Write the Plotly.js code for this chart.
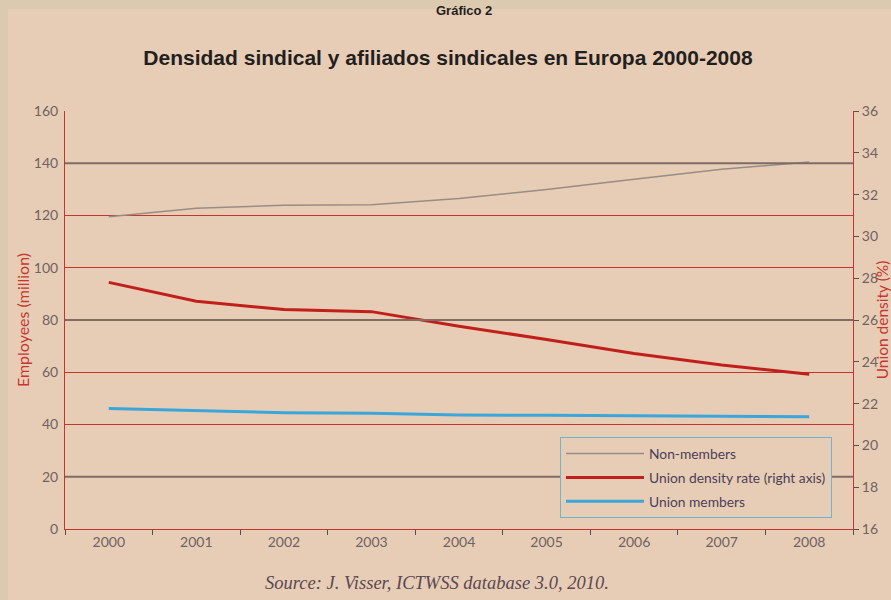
<!DOCTYPE html>
<html>
<head>
<meta charset="utf-8">
<script src="https://cdn.plot.ly/plotly-3.0.1.min.js"></script>
<style>
html,body{margin:0;padding:0;background:#dccab0;}
#chart{width:891px;height:600px;}
</style>
</head>
<body>
<div id="chart"></div>
<script>
// Data
var years = ["2000","2001","2002","2003","2004","2005","2006","2007","2008"];
var nonMembers = [119.5, 122.8, 123.9, 124.1, 126.5, 130.0, 133.9, 137.7, 140.5];      // million, left axis
var unionDensity = [27.8, 26.9, 26.5, 26.4, 25.7, 25.07, 24.4, 23.85, 23.4];          // %, right axis
var unionMembers = [46.1, 45.2, 44.5, 44.3, 43.6, 43.5, 43.3, 43.1, 43.0];            // million, left axis
var leftTicks = [0, 20, 40, 60, 80, 100, 120, 140, 160];
var greyGridTicks = [20, 80, 140];
var rightTicks = [16, 18, 20, 22, 24, 26, 28, 30, 32, 34, 36];
var seriesNames = ["Non-members", "Union density rate (right axis)", "Union members"];

var RED = '#c8352e';
var GRID_GREY = '#7d6d66';
var TICK_GREY = '#6e6262';
var INNER_BG = '#e8cdb6';
var FONT = 'Lato, "Open Sans", sans-serif';

var traces = [
  {x: years, y: nonMembers, name: seriesNames[0], type: 'scatter', mode: 'lines', legendgroup: 'a',
   line: {color: '#978c86', width: 1.5}, yaxis: 'y'},
  {x: years, y: unionDensity, name: seriesNames[1], type: 'scatter', mode: 'lines', legendgroup: 'b',
   line: {color: '#c01f1c', width: 3}, yaxis: 'y2'},
  {x: years, y: unionMembers, name: seriesNames[2], type: 'scatter', mode: 'lines', legendgroup: 'c',
   line: {color: '#3aa6da', width: 3}, yaxis: 'y'}
];

// plot area in pixels: left 65, right 853, top 111, bottom 529
function px2paperX(p){ return (p - 65) / 788; }
function px2paperY(p){ return (529 - p) / 418; }

var shapes = [
  {type: 'rect', xref: 'paper', yref: 'paper', layer: 'below',
   x0: px2paperX(8), x1: px2paperX(900), y0: px2paperY(9), y1: px2paperY(610),
   fillcolor: INNER_BG, line: {width: 0}}
];
greyGridTicks.forEach(function(v){
  shapes.push({type: 'line', xref: 'paper', yref: 'y', layer: 'above',
    x0: 0, x1: 1, y0: v, y1: v, line: {color: GRID_GREY, width: 2}});
});

var layout = {
  width: 891, height: 600,
  margin: {l: 65, r: 38, t: 111, b: 71, pad: 0},
  paper_bgcolor: '#dccab0',
  plot_bgcolor: 'rgba(0,0,0,0)',
  font: {family: FONT, color: TICK_GREY},
  showlegend: true,
  title: {
    text: '<b>Densidad sindical y afiliados sindicales en Europa 2000-2008</b>',
    font: {family: '"Liberation Sans", Arial, sans-serif', size: 21, color: '#231f20'},
    x: 448/891, xanchor: 'center',
    y: 1 - 58/600, yanchor: 'middle'
  },
  xaxis: {
    type: 'category',
    range: [-0.5, 8.5],
    tickson: 'boundaries',
    ticks: 'outside', ticklen: 5, tickcolor: '#5a5050', tickwidth: 1,
    showline: true, linecolor: RED, linewidth: 1,
    showgrid: false, zeroline: false,
    tickfont: {family: FONT, size: 14, color: TICK_GREY},
    fixedrange: true
  },
  yaxis: {
    range: [0, 160],
    tickvals: leftTicks,
    ticks: '', showline: true, linecolor: RED, linewidth: 1,
    showgrid: true, gridcolor: RED, gridwidth: 1,
    zeroline: false, mirror: false,
    tickfont: {family: FONT, size: 14, color: TICK_GREY},
    ticklabelstandoff: 3,
    title: {text: 'Employees (million)', font: {family: FONT, size: 16, color: RED}, standoff: 0}
  },
  yaxis2: {
    overlaying: 'y', side: 'right', anchor: 'x',
    range: [16, 36],
    tickvals: rightTicks,
    ticks: 'outside', ticklen: 5, tickcolor: '#5a5050', tickwidth: 1,
    showline: true, linecolor: RED, linewidth: 1,
    showgrid: false, zeroline: false,
    tickfont: {family: FONT, size: 14, color: TICK_GREY},
    title: {text: 'Union density (%)', font: {family: FONT, size: 15.5, color: RED}, standoff: 2}
  },
  legend: {
    x: px2paperX(560), y: px2paperY(437),
    xanchor: 'left', yanchor: 'top',
    bgcolor: INNER_BG, bordercolor: '#6cb6cf', borderwidth: 1,
    font: {family: FONT, size: 13.8, color: '#4b3f58'},
    itemwidth: 78,
    traceorder: 'grouped',
    tracegroupgap: 3
  },
  shapes: shapes,
  annotations: [
    {text: '<b>Gráfico 2</b>', xref: 'paper', yref: 'paper', showarrow: false,
     x: px2paperX(464), y: px2paperY(1), xanchor: 'center', yanchor: 'top',
     font: {family: '"Liberation Sans", Arial, sans-serif', size: 13, color: '#231f20'}},
    {text: '<i>Source: J. Visser, ICTWSS database 3.0, 2010.</i>', xref: 'paper', yref: 'paper', showarrow: false,
     x: px2paperX(437), y: px2paperY(583), xanchor: 'center', yanchor: 'middle',
     font: {family: '"Liberation Serif", "Times New Roman", serif', size: 18.5, color: '#5a4852'}}
  ]
};

Plotly.newPlot('chart', traces, layout, {displayModeBar: false, staticPlot: true});
</script>
</body>
</html>
